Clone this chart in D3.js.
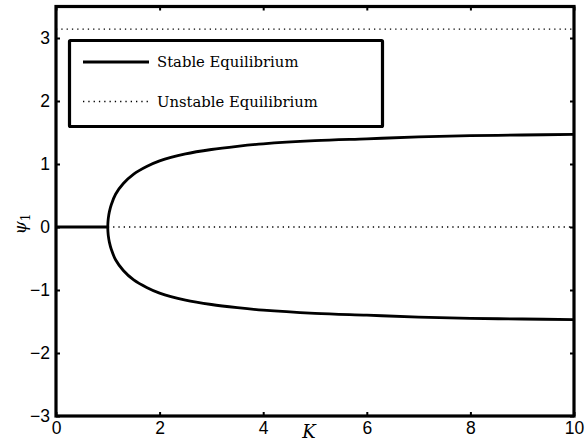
<!DOCTYPE html>
<html>
<head>
<meta charset="utf-8">
<script src="https://cdn.jsdelivr.net/npm/d3@7"></script>
<style>
  html, body { margin: 0; padding: 0; background: #fff; }
  svg { display: block; }
</style>
</head>
<body>
<svg id="chart" width="587" height="445"></svg>
<script>
// Coupling strength K and the stable equilibrium branches of psi_1
const kStable =   [1, 1.001, 1.003, 1.01, 1.03, 1.07, 1.15, 1.3, 1.5, 1.75, 2, 2.5, 3, 3.5, 4, 5, 6, 7, 8, 9, 10];
const psiStable = [0, 0.045, 0.077, 0.141, 0.24, 0.36, 0.52, 0.69, 0.84, 0.96, 1.05, 1.16, 1.23, 1.28, 1.32, 1.37, 1.40, 1.43, 1.45, 1.46, 1.47];
// Stable trivial branch before the bifurcation
const kTrivial = [0, 1];
const psiTrivial = [0, 0];
// Unstable branches
const kUnstableZero = [1, 10];
const psiUnstableZero = [0, 0];
const kUnstablePi = [0, 10];
const psiUnstablePi = [3.1416, 3.1416];

const xTicks = [0, 2, 4, 6, 8, 10];
const yTicks = [-3, -2, -1, 0, 1, 2, 3];
const legendLabels = ["Stable Equilibrium", "Unstable Equilibrium"];

const svg = d3.select("#chart");
const plotL = 56, plotR = 574, plotT = 6.5, plotB = 416;

const x = d3.scaleLinear().domain([0, 10]).range([plotL, plotR]);
const y = d3.scaleLinear().domain([-3, 3.5]).range([plotB, plotT]);

const line = d3.line().x(d => x(d[0])).y(d => y(d[1]));
const smooth = d3.line().x(d => x(d[0])).y(d => y(d[1])).curve(d3.curveCatmullRom.alpha(0.5));

// Axes: ticks drawn inward, box-style frame
const tickFont = "'Liberation Sans', Arial, sans-serif";
const xAxis = d3.axisBottom(x).tickValues(xTicks).tickSize(-4).tickPadding(6).tickFormat(d3.format("d"));
const yAxis = d3.axisLeft(y).tickValues(yTicks).tickSize(-4).tickPadding(6)
  .tickFormat(d => d < 0 ? "\u2212" + Math.abs(d) : d);
const xAxisTop = d3.axisTop(x).tickValues(xTicks).tickSize(-4).tickFormat("");
const yAxisRight = d3.axisRight(y).tickValues(yTicks).tickSize(-4).tickFormat("");

function styleAxis(g) {
  g.select(".domain").remove();
  g.selectAll(".tick line").attr("stroke", "#000").attr("stroke-width", 2);
  g.selectAll(".tick text").attr("fill", "#000").style("font-family", tickFont).style("font-size", "17.5px");
}
svg.append("g").attr("transform", `translate(0,${plotB})`).call(xAxis).call(styleAxis);
svg.append("g").attr("transform", `translate(${plotL},0)`).call(yAxis).call(styleAxis);
svg.append("g").attr("transform", `translate(0,${plotT})`).call(xAxisTop).call(styleAxis);
svg.append("g").attr("transform", `translate(${plotR},0)`).call(yAxisRight).call(styleAxis);

// Unstable (dotted) branches
const dotStyle = g => g.attr("fill", "none").attr("stroke", "#000").attr("stroke-width", 1.4).attr("stroke-dasharray", "1.3,4");
svg.append("path").datum(d3.zip(kUnstablePi, psiUnstablePi)).attr("d", line).call(dotStyle);
svg.append("path").datum(d3.zip(kUnstableZero, psiUnstableZero)).attr("d", line).call(dotStyle);

// Stable (solid) branches
const solidStyle = g => g.attr("fill", "none").attr("stroke", "#000").attr("stroke-width", 2.8).attr("stroke-linejoin", "round");
svg.append("path").datum(d3.zip(kTrivial, psiTrivial)).attr("d", line).call(solidStyle);
const upper = d3.zip(kStable, psiStable);
const lower = upper.map(([k, p]) => [k, -p]);
const fork = lower.slice().reverse().concat(upper.slice(1));
svg.append("path").datum(fork).attr("d", smooth).call(solidStyle);

// Plot frame
svg.append("rect").attr("x", plotL).attr("y", plotT).attr("width", plotR - plotL).attr("height", plotB - plotT)
  .attr("fill", "none").attr("stroke", "#000").attr("stroke-width", 3.2);

// Legend
const serif = "'DejaVu Serif', 'Liberation Serif', serif";
const lg = svg.append("g");
lg.append("rect").attr("x", 69.5).attr("y", 40.5).attr("width", 313).attr("height", 86)
  .attr("fill", "#fff").attr("stroke", "#000").attr("stroke-width", 3.2).attr("rx", 1);
lg.append("line").attr("x1", 83).attr("x2", 149).attr("y1", 62).attr("y2", 62)
  .attr("stroke", "#000").attr("stroke-width", 2.8);
lg.append("line").attr("x1", 83).attr("x2", 149).attr("y1", 101.5).attr("y2", 101.5)
  .attr("stroke", "#000").attr("stroke-width", 1.4).attr("stroke-dasharray", "1.3,4");
lg.selectAll("text.leg").data(legendLabels).join("text").attr("class", "leg")
  .attr("x", 157).attr("y", (d, i) => 67 + i * 39.5)
  .style("font-family", serif).style("font-size", "14.8px").attr("fill", "#000").text(d => d);

// Axis titles
svg.append("text").attr("x", 309).attr("y", 438).attr("text-anchor", "middle")
  .style("font-family", serif).style("font-style", "italic").style("font-size", "18px").text("K");
const yl = svg.append("text").attr("transform", "translate(26,224) rotate(-90)").attr("text-anchor", "middle")
  .style("font-family", serif).style("font-size", "17px");
yl.append("tspan").style("font-style", "italic").text("\u03C8");
yl.append("tspan").attr("dy", 4).style("font-size", "12px").text("1");
</script>
</body>
</html>
